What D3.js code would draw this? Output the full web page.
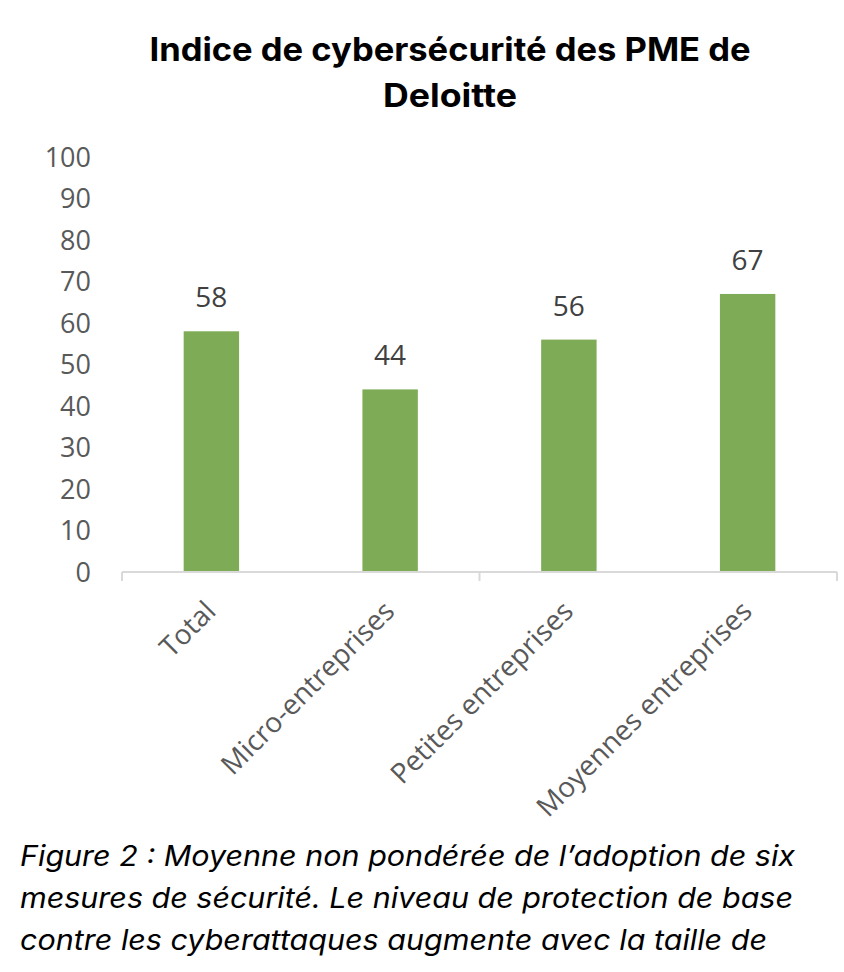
<!DOCTYPE html>
<html>
<head>
<meta charset="utf-8">
<script src="https://cdn.jsdelivr.net/npm/d3@7"></script>
<style>
  html, body { margin: 0; padding: 0; background: #ffffff; }
  svg { display: block; }
</style>
</head>
<body>
<script>
const categories = ["Total", "Micro-entreprises", "Petites entreprises", "Moyennes entreprises"];
const values = [58, 44, 56, 67];
const yTicks = [0, 10, 20, 30, 40, 50, 60, 70, 80, 90, 100];
const titleLines = ["Indice de cybersécurité des PME de", "Deloitte"];
const captionLines = [
  "Figure 2 : Moyenne non pondérée de l’adoption de six",
  "mesures de sécurité. Le niveau de protection de base",
  "contre les cyberattaques augmente avec la taille de"
];

const W = 844, H = 972;
const svg = d3.select("body").append("svg").attr("width", W).attr("height", H);

const x = d3.scaleBand().domain(categories).range([122, 837]).paddingInner(0.69).paddingOuter(0.345);
const y = d3.scaleLinear().domain([0, 100]).range([572, 157]);

// Title
const titleFont = "Inter, 'Noto Sans', sans-serif";
const tl = [{ t: titleLines[0], yy: 61, len: 601 }, { t: titleLines[1], yy: 107, len: 134 }];
svg.selectAll("text.title").data(tl).enter().append("text")
  .attr("class", "title")
  .attr("x", 450).attr("y", d => d.yy)
  .attr("text-anchor", "middle")
  .attr("font-family", titleFont).attr("font-weight", 700).attr("font-size", 32)
  .attr("fill", "#000")
  .attr("textLength", d => d.len).attr("lengthAdjust", "spacingAndGlyphs")
  .text(d => d.t);

// Y axis
const yAxis = d3.axisLeft(y).tickValues(yTicks).tickSize(0).tickPadding(0);
const gy = svg.append("g").attr("transform", "translate(91,0)").call(yAxis);
gy.select(".domain").remove();
gy.selectAll("text")
  .attr("font-family", "'Open Sans', sans-serif").attr("font-size", 27)
  .attr("fill", "#595959").attr("dy", "0.35em");

// X axis line and tick marks (every two categories)
const axisG = svg.append("g");
axisG.append("line")
  .attr("x1", x.range()[0]).attr("x2", x.range()[1])
  .attr("y1", y(0)).attr("y2", y(0))
  .attr("stroke", "#d9d9d9").attr("stroke-width", 2);
const tickIdx = [0, 2, 4];
axisG.selectAll("line.tk").data(tickIdx).enter().append("line")
  .attr("class", "tk")
  .attr("x1", d => x.range()[0] + d * x.step()).attr("x2", d => x.range()[0] + d * x.step())
  .attr("y1", y(0)).attr("y2", y(0) + 9)
  .attr("stroke", "#d9d9d9").attr("stroke-width", 2);

// Bars
svg.selectAll("rect.bar").data(values).enter().append("rect")
  .attr("class", "bar")
  .attr("x", (d, i) => x(categories[i]))
  .attr("width", x.bandwidth())
  .attr("y", d => y(d))
  .attr("height", d => y(0) - y(d) - 1)
  .attr("fill", "#7eab55");

// Value labels
svg.selectAll("text.val").data(values).enter().append("text")
  .attr("class", "val")
  .attr("x", (d, i) => x(categories[i]) + x.bandwidth() / 2)
  .attr("y", d => y(d) - 24)
  .attr("text-anchor", "middle")
  .attr("font-family", "'Open Sans', sans-serif").attr("font-size", 28)
  .attr("fill", "#404040")
  .text(d => d);

// Category labels (rotated)
svg.selectAll("text.cat").data(categories).enter().append("text")
  .attr("class", "cat")
  .attr("transform", d => `translate(${x(d) + x.bandwidth() / 2 + 6},613) rotate(-45)`)
  .attr("text-anchor", "end")
  .attr("font-family", "'Open Sans', sans-serif").attr("font-size", 28)
  .attr("fill", "#595959")
  .text(d => d);

// Caption
const capLens = [775, 773, 747];
const capY = [866, 908, 950];
svg.selectAll("text.cap").data(captionLines).enter().append("text")
  .attr("class", "cap")
  .attr("x", 20).attr("y", (d, i) => capY[i])
  .attr("font-family", "Inter, 'Noto Sans', sans-serif").attr("font-style", "italic").attr("font-size", 28)
  .attr("fill", "#000")
  .attr("textLength", (d, i) => capLens[i]).attr("lengthAdjust", "spacingAndGlyphs")
  .text(d => d);
</script>
</body>
</html>
